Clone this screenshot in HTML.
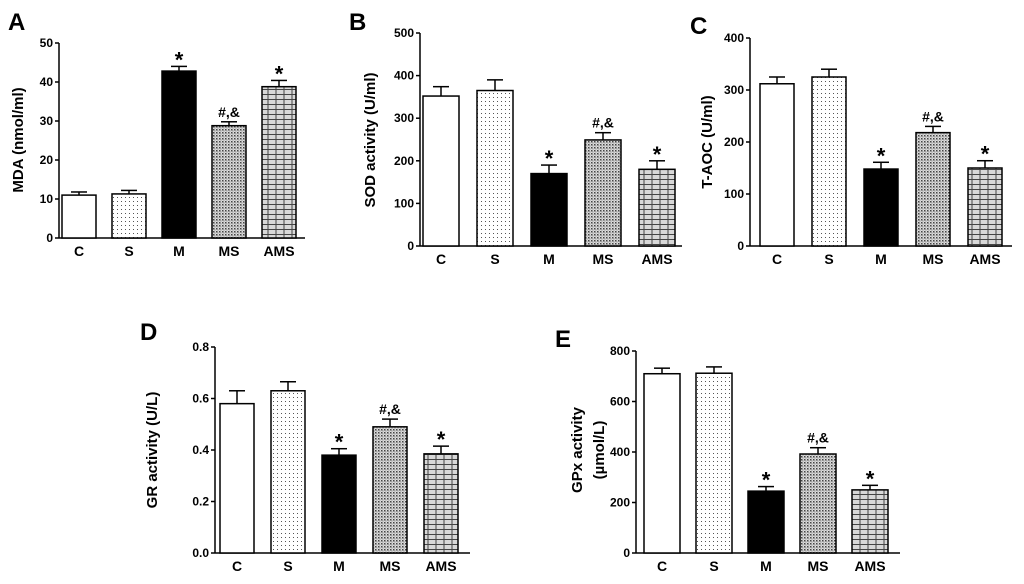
<!DOCTYPE html>
<html><head><meta charset="utf-8"><style>
html,body{margin:0;padding:0;background:#fff;}
svg{display:block;font-family:"Liberation Sans",Arial,sans-serif;font-weight:bold;}
</style></head><body>
<svg id="fig" width="1024" height="584" viewBox="0 0 1024 584" xmlns="http://www.w3.org/2000/svg">
<defs>
<pattern id="pS" width="4" height="4" patternUnits="userSpaceOnUse"><rect width="4" height="4" fill="#fff"/><rect x="1" y="1" width="1" height="1" fill="#555"/></pattern>
<pattern id="pMS" width="3" height="3" patternUnits="userSpaceOnUse"><rect width="3" height="3" fill="#ddd"/><rect x="0" y="0" width="1.5" height="1.5" fill="#444"/><rect x="1.5" y="1.5" width="1" height="1" fill="#777"/></pattern>
<pattern id="pAMS" width="8" height="5" patternUnits="userSpaceOnUse"><rect width="8" height="5" fill="#d8d8d8"/><path d="M0 4.5H8M4 0V4.5" stroke="#444" stroke-width="1"/></pattern>
</defs>
</svg>
<script>
const categories=["C","S","M","MS","AMS"];
const mdaValues=[11,11.3,42.8,28.8,38.8];
const mdaErrors=[0.8,0.9,1.2,1.0,1.6];
const mdaTicks=[0,10,20,30,40,50];
const sodValues=[352,365,170,249,180];
const sodErrors=[22,25,20,17,20];
const sodTicks=[0,100,200,300,400,500];
const taocValues=[312,325,148,218,150];
const taocErrors=[13,15,13,12,14];
const taocTicks=[0,100,200,300,400];
const grValues=[0.58,0.63,0.38,0.49,0.385];
const grErrors=[0.05,0.035,0.025,0.03,0.03];
const grTicks=[0,0.2,0.4,0.6,0.8];
const grTickLabels=["0.0","0.2","0.4","0.6","0.8"];
const gpxValues=[710,712,245,392,250];
const gpxErrors=[22,25,18,25,18];
const gpxTicks=[0,200,400,600,800];
const annotations=["","","*","#,&","*"];

const NS="http://www.w3.org/2000/svg";
const svg=document.getElementById('fig');
function mk(tag,attrs,parent,text){const e=document.createElementNS(NS,tag);for(const k in attrs)e.setAttribute(k,attrs[k]);if(text!==undefined)e.textContent=text;(parent||svg).appendChild(e);return e;}
const fills=["#fff","url(#pS)","#000","url(#pMS)","url(#pAMS)"];

function panel(p){
  const g=mk('g',{});
  
  
  const ymax=p.ticks[p.ticks.length-1];
  const y=v=>p.y0-(v/ymax)*(p.y0-p.yTop);
  const x=i=>p.x0+p.firstOff+i*p.step;
  const L=mk('text',{x:p.lx,y:p.ly,'font-size':24},g,p.letter);
  
  
  const ya=mk('line',{x1:p.x0,y1:p.yTop,x2:p.x0,y2:p.y0,stroke:'#000','stroke-width':1.5},g);
  
  
  const xa=mk('line',{x1:p.x0,y1:p.y0,x2:p.xEnd,y2:p.y0,stroke:'#000','stroke-width':1.5},g);
  
  
  p.ticks.forEach((t,i)=>{
    mk('line',{x1:p.x0-4,y1:y(t),x2:p.x0,y2:y(t),stroke:'#000','stroke-width':1.5},g);
    const tl=mk('text',{x:p.x0-6,y:y(t)+4,'font-size':12,'text-anchor':'end'},g,p.tickLabels?p.tickLabels[i]:String(t));
    
    
  });
  categories.forEach((c,i)=>{
    const v=p.values[i],e=p.errors[i],bx=x(i);
    const top=y(v+e);
    mk('line',{x1:bx+p.w/2,y1:y(v),x2:bx+p.w/2,y2:top,stroke:'#000','stroke-width':1.5},g);
    mk('line',{x1:bx+p.w/2-8,y1:top,x2:bx+p.w/2+8,y2:top,stroke:'#000','stroke-width':1.5},g);
    const b=mk('rect',{x:bx,y:y(v),width:p.w,height:p.y0-y(v),fill:fills[i],stroke:'#000','stroke-width':1.5},g);
    
    
    if(annotations[i]){
      const star=annotations[i]==="*";
      const a=mk('text',{x:bx+p.w/2,y:top-(star?-1:5),'font-size':star?22:14,'text-anchor':'middle'},g,annotations[i]);
      
      
    }
    const cl=mk('text',{x:bx+p.w/2,y:p.y0+18,'font-size':14,'text-anchor':'middle'},g,c);
    
    
  });
  const tt=mk('text',{transform:`translate(${p.tx},${p.ty}) rotate(-90)`,'font-size':15,'text-anchor':'middle'},g);
  
  
  p.title.forEach((s,k)=>{mk('tspan',{x:0,dy:k?22:0},tt,s);});
}
panel({id:'a',letter:'A',lx:8,ly:30,x0:59,xEnd:305,y0:238,yTop:43,firstOff:3,step:50,w:34,values:mdaValues,errors:mdaErrors,ticks:mdaTicks,title:["MDA (nmol/ml)"],tx:23,ty:140});
panel({id:'b',letter:'B',lx:349,ly:30,x0:420,xEnd:682,y0:246,yTop:33,firstOff:3,step:54,w:36,values:sodValues,errors:sodErrors,ticks:sodTicks,title:["SOD activity (U/ml)"],tx:375,ty:140});
panel({id:'c',letter:'C',lx:690,ly:34,x0:750,xEnd:1012,y0:246,yTop:38,firstOff:10,step:52,w:34,values:taocValues,errors:taocErrors,ticks:taocTicks,title:["T-AOC (U/ml)"],tx:712,ty:142});
panel({id:'d',letter:'D',lx:140,ly:340,x0:215,xEnd:470,y0:553,yTop:347,firstOff:5,step:51,w:34,values:grValues,errors:grErrors,ticks:grTicks,tickLabels:grTickLabels,title:["GR activity (U/L)"],tx:157,ty:450});
panel({id:'e',letter:'E',lx:555,ly:347,x0:636,xEnd:900,y0:553,yTop:351,firstOff:8,step:52,w:36,values:gpxValues,errors:gpxErrors,ticks:gpxTicks,title:["GPx  activity","(\u00b5mol/L)"],tx:582,ty:450});
</script>
</body></html>
